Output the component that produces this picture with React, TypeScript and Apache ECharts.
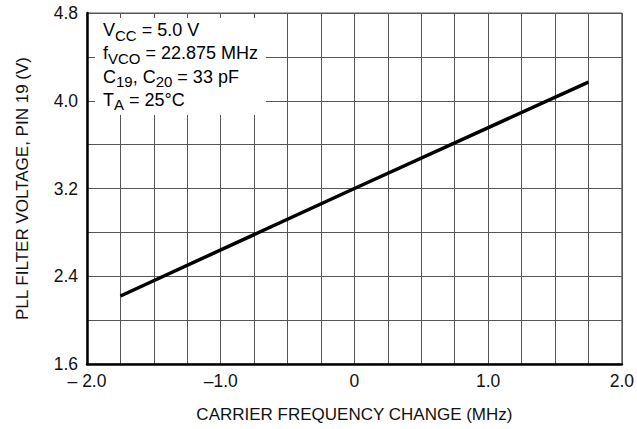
import React, { useEffect, useRef } from "react";
import * as echarts from "echarts";

const xTickLabels: Record<string, string> = { "-2": "– 2.0", "-1": "–1.0", "0": "0", "1": "1.0", "2": "2.0" };
const yTickLabels = ["1.6", "2.4", "3.2", "4.0", "4.8"];
const freqChange = [-1.75, 0, 1.75];
const filterVoltage = [2.22, 3.2, 4.17];
const conditions = [
  "{m|V}{s|CC}{m| = 5.0 V}",
  "{m|f}{s|VCO}{m| = 22.875 MHz}",
  "{m|C}{s|19}{m|, C}{s|20}{m| = 33 pF}",
  "{m|T}{s|A}{m| = 25°C}",
];

const FONT = "'Liberation Sans', Arial, sans-serif";

export default function App() {
  const ref = useRef<HTMLDivElement>(null);
  useEffect(() => {
    document.body.style.margin = "0";
    const chart = echarts.init(ref.current!, null, { renderer: "svg" });
    chart.setOption({
      animation: false,
      backgroundColor: "#fff",
      grid: { left: 87, right: 14, top: 13, bottom: 65, show: true, borderColor: "#555", borderWidth: 1 },
      xAxis: {
        type: "value",
        min: -2,
        max: 2,
        interval: 0.25,
        name: "CARRIER FREQUENCY CHANGE (MHz)",
        nameLocation: "middle",
        nameGap: 42,
        nameTextStyle: { fontFamily: FONT, fontSize: 17, color: "#111" },
        axisLine: { show: true, onZero: false, lineStyle: { color: "#000", width: 2.5 } },
        axisTick: { show: false },
        splitLine: { show: true, lineStyle: { color: "#555", width: 1 } },
        axisLabel: {
          fontFamily: FONT,
          fontSize: 17.5,
          color: "#111",
          margin: 8,
          formatter: (v: number) => {
            const k = String(Math.round(v * 100) / 100);
            return xTickLabels[k] ?? "";
          },
        },
      },
      yAxis: {
        type: "value",
        min: 1.6,
        max: 4.8,
        interval: 0.4,
        name: "PLL FILTER VOLTAGE, PIN 19 (V)",
        nameLocation: "middle",
        nameGap: 56,
        nameTextStyle: { fontFamily: FONT, fontSize: 17, color: "#111" },
        axisLine: { show: true, onZero: false, lineStyle: { color: "#000", width: 2.5 } },
        axisTick: { show: false },
        splitLine: { show: true, lineStyle: { color: "#555", width: 1 } },
        axisLabel: {
          fontFamily: FONT,
          fontSize: 17.5,
          color: "#111",
          margin: 9,
          formatter: (v: number) => {
            const s = v.toFixed(1);
            return yTickLabels.includes(s) ? s : "";
          },
        },
      },
      series: [
        {
          type: "line",
          data: freqChange.map((x, i) => [x, filterVoltage[i]]),
          showSymbol: false,
          lineStyle: { color: "#000", width: 3.5 },
          z: 3,
        },
      ],
      graphic: [
        {
          type: "rect",
          shape: { x: 95, y: 18, width: 171, height: 97 },
          style: { fill: "#fff" },
          z: 50,
        },
        ...conditions.map((c, i) => ({
          type: "text",
          x: 103,
          y: 18 + i * 23.3,
          z: 60,
          style: {
            text: c,
            rich: {
              m: { fontFamily: FONT, fontSize: 18, color: "#111", lineHeight: 24, verticalAlign: "middle" },
              s: { fontFamily: FONT, fontSize: 15, color: "#111", lineHeight: 24, padding: [10, 0, 0, 0] },
            },
          },
        })),
      ],
    });
    return () => chart.dispose();
  }, []);
  return <div ref={ref} style={{ width: 637, height: 429 }} />;
}
